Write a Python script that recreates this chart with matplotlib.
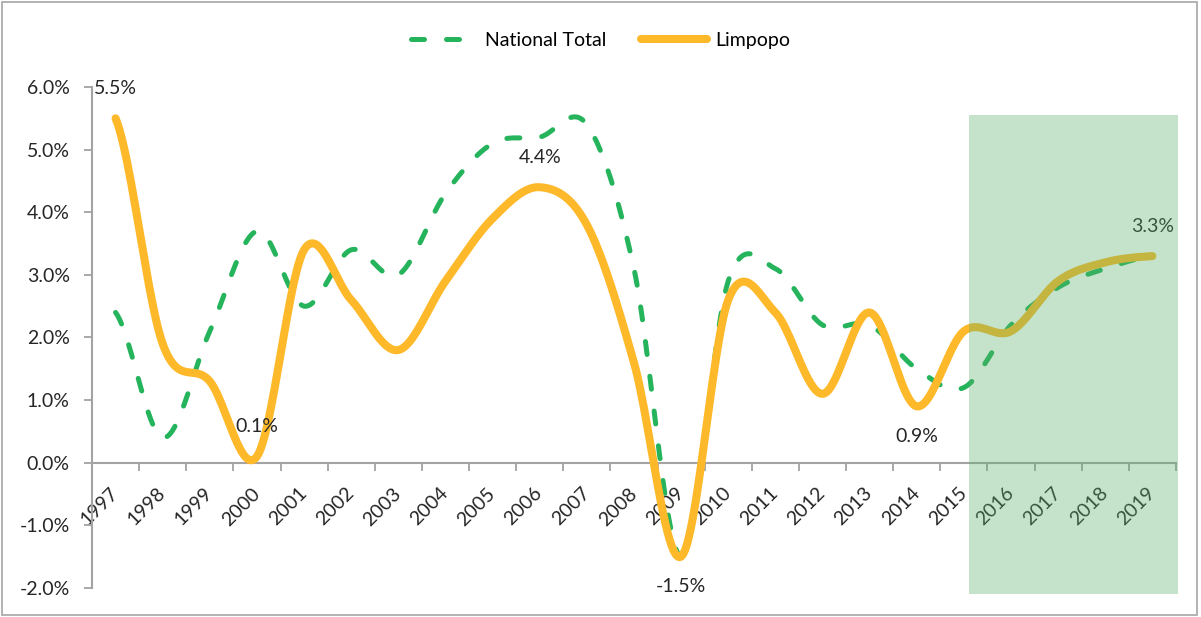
import matplotlib
matplotlib.use("Agg")
import matplotlib.pyplot as plt
import numpy as np
from matplotlib.patches import Rectangle
from matplotlib.ticker import FuncFormatter, FixedLocator

years = [str(y) for y in range(1997, 2020)]
national_total = [2.4, 0.4, 2.1, 3.7, 2.5, 3.4, 3.0, 4.3, 5.1, 5.2, 5.4, 3.1, -1.5,
                  2.9, 3.1, 2.2, 2.2, 1.5, 1.2, 2.2, 2.8, 3.1, 3.3]
limpopo = [5.5, 1.9, 1.3, 0.1, 3.4, 2.6, 1.8, 2.9, 3.9, 4.4, 3.8, 1.6, -1.5,
           2.6, 2.4, 1.1, 2.4, 0.9, 2.1, 2.1, 2.9, 3.2, 3.3]
# data labels on the Limpopo series: year -> +1 above / -1 below
limpopo_labels = {"1997": 1, "2000": 1, "2006": 1, "2009": -1, "2014": -1, "2019": 1}
forecast_years = ("2015", "2019")

GREEN = "#25b35c"
YELLOW = "#fdb92a"
TEXT = "#262626"
AXIS = "#a3a3a3"

plt.rcParams["font.family"] = ["Lato", "DejaVu Sans"]
plt.rcParams["font.size"] = 14


def smooth(values, steps=24):
    # excel-style smoothed line: catmull-rom through each point
    y = np.asarray(values, dtype=float)
    x = np.arange(len(y), dtype=float)
    xs, ys = [], []
    t = np.linspace(0, 1, steps, endpoint=False)
    for i in range(len(y) - 1):
        p0 = y[i - 1] if i > 0 else y[i]
        p3 = y[i + 2] if i + 2 < len(y) else y[i + 1]
        c1 = y[i] + (y[i + 1] - p0) / 6
        c2 = y[i + 1] - (p3 - y[i]) / 6
        b = ((1 - t) ** 3 * y[i] + 3 * (1 - t) ** 2 * t * c1
             + 3 * (1 - t) * t ** 2 * c2 + t ** 3 * y[i + 1])
        xs.append(x[i] + t)
        ys.append(b)
    xs.append([x[-1]])
    ys.append([y[-1]])
    return np.concatenate(xs), np.concatenate(ys)


fig = plt.figure(figsize=(12.01, 6.17), dpi=100)
ax = fig.add_axes([0.0766, 0.047, 0.9025, 0.812])

# spine position first: moving it resets the tick objects
for side in ("top", "right"):
    ax.spines[side].set_visible(False)
ax.spines["bottom"].set_position(("data", 0))
for side in ("left", "bottom"):
    ax.spines[side].set_color(AXIS)
    ax.spines[side].set_linewidth(1.5)

gx, gy = smooth(national_total)
lx, ly = smooth(limpopo)
ax.plot(gx, gy, color=GREEN, lw=3.6, dashes=(2.6, 4.4), dash_capstyle="round",
        label="National Total", zorder=3)
ax.plot(lx, ly, color=YELLOW, lw=5.8, solid_capstyle="round",
        label="Limpopo", zorder=4)

for year, side in limpopo_labels.items():
    i = years.index(year)
    v = limpopo[i]
    ax.annotate(f"{v:.1f}%", (i, v), xytext=(0, 21.5 * side), textcoords="offset points",
                ha="center", va="center", color=TEXT, fontsize=14, zorder=5)

ax.set_xlim(-0.5, len(years) - 0.5)
ax.set_ylim(-2, 6)
ax.set_yticks(np.arange(-2, 6.01, 1))
ax.yaxis.set_major_formatter(FuncFormatter(lambda v, _: f"{v:.1f}%"))

ax.set_xticks(range(len(years)))
ax.set_xticklabels(years)
ax.xaxis.set_minor_locator(FixedLocator(np.arange(-0.5, len(years), 1)))
ax.tick_params(axis="x", which="major", length=0, pad=20, labelcolor=TEXT,
               labelsize=14, labelrotation=45)
ax.tick_params(axis="x", which="minor", length=6, width=1.3, color=AXIS, direction="out")
ax.tick_params(axis="y", length=6, width=1.3, color=AXIS, pad=10, labelcolor=TEXT, labelsize=14)
for lab in ax.get_xticklabels():
    lab.set_ha("right")
    lab.set_va("center")
    lab.set_rotation_mode("anchor")

# forecast shading sits on top of lines and tick labels
x0 = years.index(forecast_years[0]) + 0.12
x1 = years.index(forecast_years[1]) + 0.54
ax.add_patch(Rectangle((x0, -2.1), x1 - x0, 7.65, facecolor="#59af6a", alpha=0.35,
                       edgecolor="none", clip_on=False, zorder=10))

fig.legend(loc="center", bbox_to_anchor=(0.5, 0.935), ncol=2, frameon=False,
           handlelength=3.4, handletextpad=0.4, columnspacing=1.8, fontsize=14)

fig.patches.append(Rectangle((0.002, 0.004), 0.995, 0.992, transform=fig.transFigure,
                             fill=False, edgecolor="#a6a6a6", lw=1.2))

fig.savefig("out.png", dpi=100)
